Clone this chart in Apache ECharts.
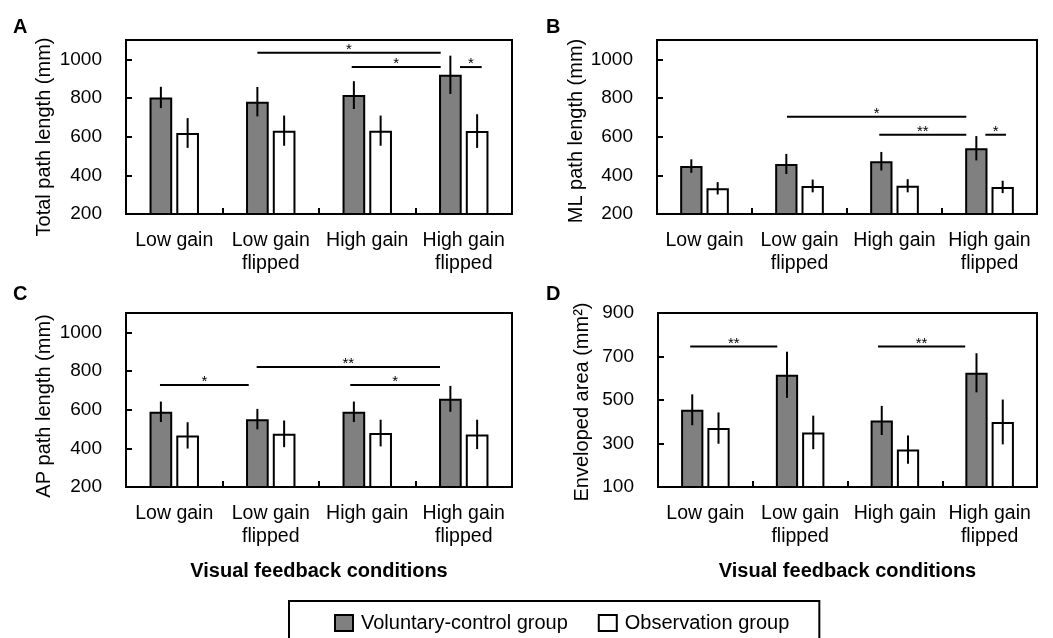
<!DOCTYPE html>
<html><head><meta charset="utf-8">
<script src="https://cdn.jsdelivr.net/npm/echarts@6/dist/echarts.min.js"></script>
<style>html,body{margin:0;padding:0;background:#fff}#c{width:1053px;height:638px}</style>
</head><body><div id="c"></div>
<script>
// ---- data ----
const categories = ['Low gain', 'Low gain\nflipped', 'High gain', 'High gain\nflipped'];
const seriesNames = ['Voluntary-control group', 'Observation group'];

const totalVol = [803, 781, 815, 920];
const totalVolErr = [55, 76, 72, 99];
const totalObs = [619, 631, 631, 629];
const totalObsErr = [77, 78, 78, 87];

const mlVol = [448, 459, 473, 540];
const mlVolErr = [35, 52, 48, 63];
const mlObs = [333, 345, 346, 340];
const mlObsErr = [32, 33, 34, 32];

const apVol = [589, 551, 589, 656];
const apVolErr = [53, 53, 53, 67];
const apObs = [467, 475, 479, 472];
const apObsErr = [68, 69, 69, 76];

const areaVol = [455, 616, 406, 625];
const areaVolErr = [71, 106, 67, 90];
const areaObs = [371, 351, 272, 399];
const areaObsErr = [72, 77, 65, 103];

// significance brackets: [from (category index), to (category index), level]
const bracketsA = [[0.861, 2.761, 1034], [1.839, 2.761, 960], [2.961, 3.186, 960]];
const bracketLabelsA = ['*', '*', '*'];
const bracketsB = [[0.868, 2.756, 703], [1.84, 2.756, 610], [2.956, 3.174, 610]];
const bracketLabelsB = ['*', '**', '*'];
const bracketsC = [[-0.148, 0.772, 728], [0.854, 2.754, 821], [1.824, 2.754, 728]];
const bracketLabelsC = ['*', '**', '*'];
const bracketsD = [[-0.16, 0.759, 746], [1.822, 2.742, 746]];
const bracketLabelsD = ['**', '**'];

// y axis [min, max, interval]
const yScaleA = [200, 1100, 200];
const yScaleB = [200, 1100, 200];
const yScaleC = [200, 1100, 200];
const yScaleD = [100, 900, 200];

// ---- layout / style ----
const FONT = 'Liberation Sans, Arial, Helvetica, sans-serif';
const FS = 19;
const GRAY = '#808080';
const BAR_W = 0.235, BAR_GAP = 0.18;

const panels = [
  { key: 'A', grid: { left: 126, top: 40, width: 386, height: 174 }, yScale: yScaleA, yName: 'Total path length (mm)', vol: totalVol, volErr: totalVolErr, obs: totalObs, obsErr: totalObsErr, br: bracketsA, brL: bracketLabelsA, xName: '', namePad: 20, nameGap: 72 },
  { key: 'B', grid: { left: 657, top: 40, width: 380, height: 174 }, yScale: yScaleB, yName: 'ML path length (mm)', vol: mlVol, volErr: mlVolErr, obs: mlObs, obsErr: mlObsErr, br: bracketsB, brL: bracketLabelsB, xName: '', namePad: 8, nameGap: 66 },
  { key: 'C', grid: { left: 126, top: 313, width: 386, height: 174 }, yScale: yScaleC, yName: 'AP path length (mm)', vol: apVol, volErr: apVolErr, obs: apObs, obsErr: apObsErr, br: bracketsC, brL: bracketLabelsC, xName: 'Visual feedback conditions', namePad: 12, nameGap: 72 },
  { key: 'D', grid: { left: 658, top: 313, width: 379, height: 174 }, yScale: yScaleD, yName: 'Enveloped area (mm\u00B2)', vol: areaVol, volErr: areaVolErr, obs: areaObs, obsErr: areaObsErr, br: bracketsD, brL: bracketLabelsD, xName: 'Visual feedback conditions', namePad: 4, nameGap: 66 }
];

const option = {
  animation: false,
  backgroundColor: '#fff',
  textStyle: { fontFamily: FONT, color: '#000' },
  grid: [], xAxis: [], yAxis: [], series: [],
  legend: {
    left: 289, top: 601,
    padding: [12, 30, 40, 45],
    borderColor: '#000', borderWidth: 2,
    itemWidth: 18, itemHeight: 16, itemGap: 30,
    icon: 'rect',
    textStyle: { fontSize: 20, color: '#000', fontFamily: FONT, padding: [0, 0, 0, 3] },
    data: [
      { name: seriesNames[0], itemStyle: { color: GRAY, borderColor: '#000', borderWidth: 2 } },
      { name: seriesNames[1], itemStyle: { color: '#fff', borderColor: '#000', borderWidth: 2 } }
    ],
    selectedMode: false
  },
  graphic: []
};

const letterPos = { A: [13, 17], B: [546, 17], C: [13, 284], D: [546, 284] };

panels.forEach((p, i) => {
  const [ymin, ymax, yint] = p.yScale;
  option.grid.push(Object.assign({ show: true, borderColor: '#000', borderWidth: 2, backgroundColor: 'transparent', containLabel: false }, p.grid));
  option.xAxis.push({
    type: 'category', gridIndex: i, data: categories,
    axisLine: { onZero: false, lineStyle: { color: '#000', width: 2 } },
    axisTick: { show: true, inside: true, length: 6, lineStyle: { color: '#000', width: 2 } },
    axisLabel: { color: '#000', fontSize: 19.5, fontFamily: FONT, margin: 15, lineHeight: 23, interval: 0 },
    splitLine: { show: false },
    name: p.xName, nameLocation: 'middle', nameGap: 74,
    nameTextStyle: { fontSize: 20, fontWeight: 'bold', color: '#000', fontFamily: FONT }
  });
  option.xAxis.push({ type: 'value', gridIndex: i, min: -0.5, max: 3.5, show: false, axisLine: { onZero: false } });
  option.yAxis.push({
    type: 'value', gridIndex: i, min: ymin, max: ymax, interval: yint,
    axisLine: { show: true, onZero: false, lineStyle: { color: '#000', width: 2 } },
    axisTick: { show: true, inside: true, length: 6, lineStyle: { color: '#000', width: 2 } },
    axisLabel: { color: '#000', fontSize: FS, fontFamily: FONT, margin: 24, formatter: v => (p.key !== 'D' && v > 1000) ? '' : String(v) },
    splitLine: { show: false },
    name: p.yName, nameLocation: 'middle', nameGap: p.nameGap,
    nameTextStyle: { fontSize: 20, color: '#000', fontFamily: FONT, padding: [0, p.namePad, 0, 0] }
  });
  const xi = 2 * i, xv = 2 * i + 1;
  const groups = [[p.vol, p.volErr, GRAY, -1], [p.obs, p.obsErr, '#fff', 1]];
  groups.forEach((g, k) => {
    option.series.push({
      type: 'bar', name: seriesNames[k], xAxisIndex: xi, yAxisIndex: i,
      data: g[0], barWidth: (BAR_W * 100) + '%', barGap: (BAR_GAP * 100) + '%',
      itemStyle: { color: g[2], borderColor: '#000', borderWidth: 2 },
      emphasis: { disabled: true }, z: 2
    });
  });
  groups.forEach((g, k) => {
    option.series.push({
      type: 'custom', xAxisIndex: xi, yAxisIndex: i, z: 5, silent: true,
      data: g[0].map((v, j) => [j, v - g[1][j], v + g[1][j]]),
      renderItem: (params, api) => {
        const band = api.size([1, 0])[0];
        const off = band * BAR_W * (1 + BAR_GAP) / 2 * g[3];
        const a = api.coord([api.value(0), api.value(1)]);
        const b = api.coord([api.value(0), api.value(2)]);
        return { type: 'line', shape: { x1: a[0] + off, y1: a[1], x2: b[0] + off, y2: b[1] }, style: { stroke: '#000', lineWidth: 2 } };
      }
    });
  });
  option.series.push({
    type: 'custom', xAxisIndex: xv, yAxisIndex: i, z: 6, silent: true,
    data: p.br,
    renderItem: (params, api) => {
      const a = api.coord([api.value(0), api.value(2)]);
      const b = api.coord([api.value(1), api.value(2)]);
      return {
        type: 'group', children: [
          { type: 'line', shape: { x1: a[0], y1: a[1], x2: b[0], y2: b[1] }, style: { stroke: '#000', lineWidth: 2 } },
          { type: 'text', x: (a[0] + b[0]) / 2, y: a[1] - 3, style: { text: p.brL[params.dataIndex], fontSize: 15, fontFamily: FONT, fill: '#000', align: 'center', verticalAlign: 'middle' } }
        ]
      };
    }
  });
  option.graphic.push({ type: 'text', left: letterPos[p.key][0], top: letterPos[p.key][1], style: { text: p.key, fontSize: 20, fontWeight: 'bold', fontFamily: FONT, fill: '#000' } });
});

const chart = echarts.init(document.getElementById('c'), null, { renderer: 'canvas' });
chart.setOption(option);
</script></body></html>
